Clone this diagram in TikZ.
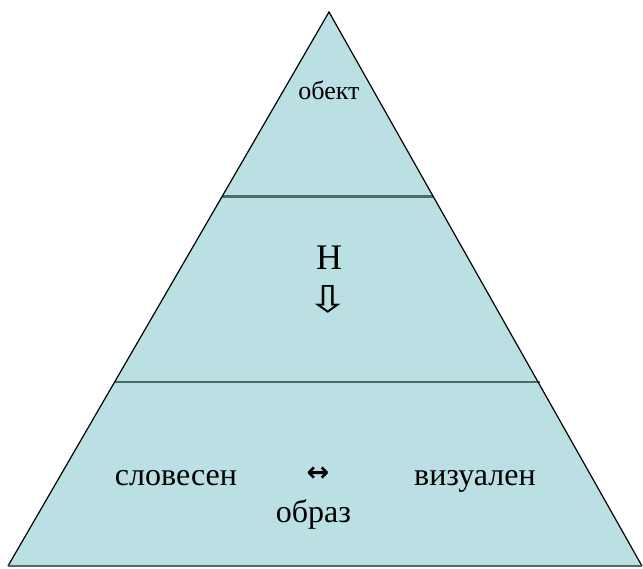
\documentclass[tikz,border=0pt]{standalone}
\usepackage{fontspec}
\setmainfont{Liberation Serif}
\newfontfamily\arrowfont{DejaVu Sans}
\definecolor{pyrfill}{HTML}{BBE0E3}
\definecolor{divline}{HTML}{4A6A6C}
\begin{document}
\begin{tikzpicture}[x=1pt,y=-1pt,
  lbl/.style={inner sep=0pt,anchor=base,text=black}]
\useasboundingbox (0,0) rectangle (643,568);
\coordinate (apex) at (329,12);
\coordinate (bl) at (8,566);
\coordinate (br) at (642,566);
\fill[pyrfill] (apex) -- (bl) -- (br) -- cycle;
\coordinate (d1l) at (222.4,196.5);
\coordinate (d1r) at (433.0,196.5);
\coordinate (d2l) at (114.8,382);
\coordinate (d2r) at (540.0,382);
\draw[divline,line width=2.2pt] (d1l) -- (d1r);
\draw[divline,line width=2.2pt] (d2l) -- (d2r);
\draw[black,line width=1.2pt] (bl) -- (apex) -- (br);
\draw[divline,line width=2pt] (bl) -- (br);
\node[lbl,font=\fontsize{26}{30}\selectfont] (obj) at (329,99) {обект};
\node[lbl,font=\fontsize{36}{40}\selectfont] (n) at (329,269) {Н};
\node[inner sep=0pt,xscale=1.4,font=\arrowfont\fontsize{37}{39}\selectfont] (arr) at (328,299) {⇩};
\node[lbl,font=\fontsize{32}{36}\selectfont] (slov) at (176,485) {словесен};
\node[inner sep=0pt,font=\arrowfont\bfseries\fontsize{27}{29}\selectfont] (lr) at (318,474) {↔};
\node[lbl,font=\fontsize{32}{36}\selectfont] (viz) at (475,485) {визуален};
\node[lbl,font=\fontsize{32}{36}\selectfont] (obr) at (313.5,522) {образ};
\end{tikzpicture}
\end{document}
